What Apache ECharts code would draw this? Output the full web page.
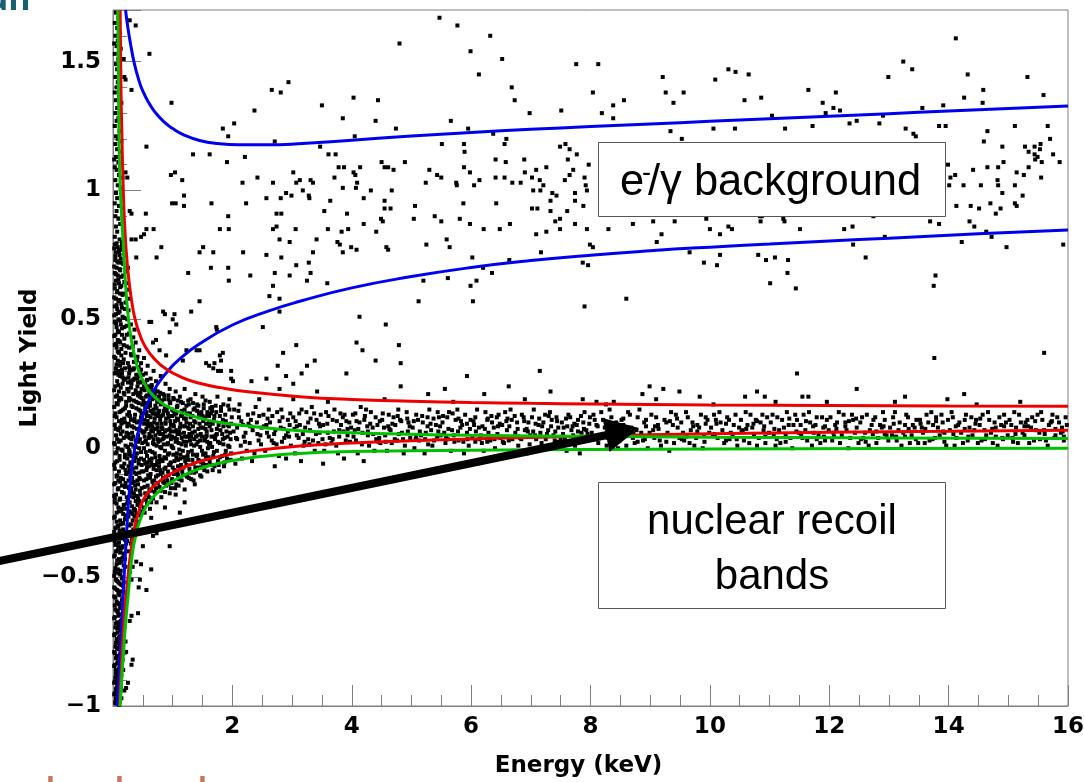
<!DOCTYPE html>
<html>
<head>
<meta charset="utf-8">
<script src="https://cdn.jsdelivr.net/npm/echarts@6.0.0/dist/echarts.min.js"></script>
<style>
  html, body { margin: 0; padding: 0; background: #ffffff; }
  #chart { width: 1084px; height: 782px; }
</style>
</head>
<body>
<div id="chart"></div>
<script>
// Light yield vs. recoil energy: events, e-/gamma band and nuclear-recoil bands.

// Axis ranges and tick spacing
const xRange = [0, 16];
const yRange = [-1, 1.7];
const xMajorStep = 2;
const yMajorStep = 0.5;
const yMinorStep = 0.1;

// Sparse events (electron / gamma population and outliers) [energy keV, light yield]
const sparseEvents = [
  [5.47,1.67],[5.77,1.64],[6.32,1.60],[4.80,1.57],[5.99,1.54],[6.52,1.51],[6.13,1.45],[7.76,1.49],[8.13,1.49],[9.21,1.44],
  [9.26,1.38],[9.39,1.34],[9.56,1.38],[8.04,1.38],[6.68,1.40],[6.73,1.35],[6.98,1.30],[7.51,1.31],[8.19,1.30],[8.38,1.33],
  [8.38,1.28],[8.56,1.35],[3.50,1.33],[4.03,1.36],[4.44,1.35],[3.85,1.28],[4.40,1.27],[4.74,1.24],[5.66,1.27],[5.95,1.24],
  [6.37,1.22],[6.59,1.20],[6.56,1.18],[4.05,1.21],[5.51,1.18],[5.88,1.18],[5.89,1.15],[3.47,1.17],[3.61,1.14],[3.73,1.14],
  [9.34,1.23],[9.53,1.20],[7.49,1.17],[7.58,1.18],[7.65,1.16],[7.77,1.14],[7.62,1.12],[7.97,1.10],[6.89,1.12],[6.41,1.12],
  [6.58,1.11],[6.41,1.05],[6.56,1.05],[6.69,1.03],[6.83,1.03],[6.90,1.07],[7.02,1.05],[7.09,1.08],[7.26,1.09],[7.15,1.04],
  [7.21,1.02],[7.71,1.08],[7.65,1.06],[7.57,1.04],[7.90,1.05],[7.92,1.02],[7.94,1.00],[7.88,0.94],[7.74,0.99],[7.74,0.96],
  [7.36,0.99],[7.43,0.98],[7.33,0.96],[7.33,0.92],[7.49,0.89],[7.41,0.88],[7.61,0.92],[7.04,1.00],[7.16,1.00],[7.02,0.93],
  [7.11,0.93],[7.09,0.83],[7.26,0.84],[7.49,0.85],[7.74,0.87],[7.94,0.85],[8.30,0.85],[8.71,0.87],[9.05,0.88],[9.41,0.88],
  [9.19,0.83],[9.11,0.80],[7.99,0.79],[8.04,0.78],[3.31,1.04],[3.35,1.03],[3.13,1.04],[3.18,1.00],[3.28,0.98],[3.29,0.97],
  [3.54,0.92],[3.64,0.96],[3.78,1.09],[3.87,1.09],[3.71,1.05],[4.03,1.07],[4.06,1.06],[4.14,1.09],[4.09,1.03],[3.85,1.01],
  [4.07,1.01],[4.32,1.00],[4.20,0.97],[4.50,1.11],[4.55,1.09],[4.61,1.09],[4.70,1.08],[4.89,1.11],[4.67,1.00],[4.55,0.96],
  [4.55,0.93],[4.65,0.93],[5.06,0.94],[5.04,0.89],[5.30,1.08],[5.43,1.06],[5.50,1.05],[5.24,1.03],[5.75,1.03],[5.76,1.02],
  [6.05,1.02],[6.14,1.04],[5.88,1.09],[5.98,1.07],[5.87,0.95],[6.42,0.95],[5.39,0.90],[5.50,0.88],[5.81,0.89],[5.98,0.87],
  [6.21,0.85],[6.48,0.85],[6.65,0.87],[3.92,0.91],[4.20,0.87],[4.49,0.89],[4.52,0.88],[4.41,0.84],[3.60,0.85],[3.83,0.84],
  [3.94,0.85],[3.41,0.81],[3.76,0.80],[3.80,0.79],[3.99,0.78],[4.58,0.78],[5.25,0.79],[5.59,0.81],[5.64,0.78],
  [14.12,1.59],[13.24,1.50],[13.39,1.47],[12.99,1.44],[14.32,1.45],[15.32,1.44],[15.59,1.37],[10.09,1.43],[10.31,1.47],[10.43,1.46],
  [10.65,1.45],[11.65,1.39],[12.11,1.38],[10.58,1.35],[10.86,1.36],[11.89,1.34],[12.07,1.32],[12.18,1.31],[11.94,1.30],[11.04,1.29],
  [13.56,1.32],[13.91,1.33],[14.26,1.36],[14.57,1.34],[14.58,1.39],[12.90,1.29],[12.46,1.27],[12.34,1.26],[12.84,1.26],[10.06,1.24],
  [10.42,1.24],[11.26,1.24],[11.72,1.25],[13.28,1.24],[13.41,1.22],[13.45,1.21],[13.84,1.25],[13.95,1.25],[14.65,1.23],[15.11,1.25],
  [15.66,1.25],[14.59,1.19],[14.90,1.17],[15.28,1.17],[15.44,1.17],[15.54,1.18],[15.53,1.16],[15.34,1.15],[15.44,1.14],[15.49,1.13],
  [15.75,1.14],[15.70,1.20],[15.86,1.11],[15.45,1.12],[15.56,1.11],[15.34,1.09],[15.55,1.05],[15.26,1.06],[15.14,1.07],[15.11,1.02],
  [15.24,0.98],[15.11,0.95],[15.14,0.94],[14.92,1.11],[14.83,1.09],[14.65,1.09],[14.41,1.08],[14.82,1.04],[14.83,1.02],[14.90,0.99],
  [14.54,1.02],[14.25,1.02],[14.11,1.06],[14.03,1.05],[14.01,1.02],[13.99,1.10],[14.13,0.94],[14.37,0.94],[14.51,0.93],[14.70,0.95],
  [14.79,0.91],[14.87,0.93],[14.35,0.88],[14.43,0.86],[14.63,0.84],[14.72,0.82],[13.69,0.88],[13.84,0.87],[14.22,0.80],[14.97,0.78],
  [15.92,0.79],[11.51,0.85],[12.25,0.85],[12.39,0.86],[12.93,0.82],[12.40,0.79],[10.00,0.85],[10.31,0.86],[10.37,0.85],[10.17,0.83],
  [9.94,0.89],[10.85,0.88],[10.84,0.90],[11.23,0.89],[11.25,0.88],[10.87,0.90],[12.74,0.90],
  [3.35,0.76],[3.85,0.76],[4.08,0.77],[4.61,0.77],[3.28,0.72],[3.31,0.68],[3.25,0.65],[3.59,0.64],[6.02,0.74],[6.64,0.73],
  [7.17,0.76],[7.87,0.72],[7.96,0.71],[6.20,0.70],[6.35,0.68],[5.61,0.66],[5.20,0.65],[5.99,0.63],[6.09,0.65],[5.12,0.57],
  [6.03,0.57],[7.90,0.55],[8.60,0.58],[9.66,0.76],[4.13,0.51],[4.57,0.48],[4.08,0.41],[4.18,0.38],[4.79,0.40],[4.40,0.34],
  [4.82,0.33],[3.38,0.34],[3.25,0.32],[3.16,0.29],[3.91,0.29],[5.93,0.28],[7.15,0.30],[4.82,0.24],[5.56,0.23],[6.63,0.24],
  [3.42,0.22],[5.28,0.21],[6.22,0.21],[7.33,0.22],[7.87,0.19],[8.39,0.18],[8.26,0.17],[8.87,0.21],[8.99,0.24],[9.22,0.23],
  [9.49,0.22],[9.83,0.20],
  [9.90,0.72],[10.12,0.71],[10.17,0.75],[10.81,0.75],[10.94,0.73],[11.09,0.74],[11.31,0.73],[11.30,0.68],[11.01,0.64],[11.44,0.62],
  [12.61,0.74],[13.78,0.67],[13.75,0.63],[13.76,0.35],[15.60,0.37],[11.46,0.29],[12.46,0.23],[10.59,0.20],[10.79,0.22],[10.92,0.20],
  [11.55,0.20],[11.65,0.20],[13.27,0.20],[13.98,0.19],[14.26,0.21],[14.47,0.17],[11.96,0.18],[10.06,0.17],
  [0.38,1.64],[0.61,1.53],[0.98,1.34],[0.56,1.17],[1.34,1.14],[1.62,1.14],[1.91,1.11],[2.21,1.13],[1.84,1.24],[1.93,1.21],
  [2.03,1.26],[2.37,1.31],[2.66,1.39],[2.81,1.38],[2.94,1.42],[2.71,1.19],[0.97,1.06],[1.04,1.07],[1.16,1.04],[0.99,0.95],
  [1.05,0.95],[1.19,0.98],[1.19,0.94],[1.65,0.95],[1.93,0.90],[1.79,0.85],[1.94,0.85],[2.17,1.03],[2.42,1.05],[2.23,0.95],
  [2.57,0.97],[2.68,1.03],[2.81,0.97],[2.90,0.99],[2.99,0.98],[3.02,1.07],[3.07,1.03],[2.74,0.91],[2.82,0.91],[2.68,0.85],
  [2.74,0.86],[3.06,0.85],[2.79,0.81],[2.96,0.80],[0.55,0.91],[0.56,0.85],[0.68,0.85],[0.52,0.83],[0.38,0.81],[0.47,0.82],
  [0.81,0.78],[1.51,0.78],
  [0.39,0.74],[0.73,0.74],[1.45,0.76],[1.68,0.76],[2.18,0.76],[2.57,0.75],[2.82,0.74],[3.07,0.71],[1.26,0.68],[1.64,0.70],
  [1.93,0.70],[2.30,0.67],[2.71,0.68],[2.96,0.67],[1.94,0.65],[2.68,0.63],[2.62,0.59],[2.79,0.58],[1.45,0.57],[0.84,0.53],
  [1.31,0.53],[1.00,0.50],[0.64,0.49],[0.95,0.45],[1.74,0.46],[2.51,0.47],[2.85,0.37],[2.76,0.32],[3.07,0.40],[1.40,0.38],
  [1.56,0.33],[1.61,0.32],[1.79,0.36],[1.81,0.34],[1.68,0.31],[1.81,0.30],[1.98,0.27],[2.32,0.26],[2.57,0.27],[2.90,0.28],
  [3.02,0.25],[0.87,0.52],[1.03,0.52],[0.61,0.49],[0.78,0.38],[0.89,0.36],[0.67,0.41],[1.17,0.34],[1.23,0.38],[1.45,0.38],
  [1.73,0.47],[1.84,0.37],[1.70,0.33],[1.76,0.30],[1.98,0.30],[2.01,0.26],[2.79,0.53],[2.79,0.23],[3.02,0.19],[2.82,0.15],
  [1.06,0.48],[0.72,0.42],
  [0.73,-0.21],[0.87,-0.23],[1.12,-0.25],[1.20,-0.21],[0.53,-0.25],[0.64,-0.27],[0.95,-0.38],[0.50,-0.38],[0.39,-0.44],[0.47,-0.45],
  [0.64,-0.47],[0.33,-0.46],[0.31,-0.51],[0.45,-0.51],[0.56,-0.55],[0.43,-0.54],[0.31,-0.65],[0.42,-0.64],[0.28,-0.67],[0.22,-0.79],
  [0.33,-0.82],[0.31,-0.84],[0.25,-0.91],[0.22,-0.93],[0.67,-0.34],[0.73,-0.33],[0.59,-0.32]
];

// Events piled up at the lowest energies (threshold column)
const thresholdEvents = [
  [0.05,1.69],[0.09,1.67],[0.03,1.65],[0.07,1.63],[0.11,1.61],[0.04,1.60],[0.08,1.58],[0.06,1.56],[0.13,1.55],[0.03,1.53],
  [0.09,1.51],[0.05,1.49],[0.07,1.47],[0.12,1.46],[0.04,1.44],[0.08,1.42],[0.06,1.40],[0.03,1.38],[0.10,1.37],[0.05,1.35],
  [0.14,1.34],[0.07,1.32],[0.04,1.30],[0.09,1.28],[0.06,1.27],[0.03,1.25],[0.11,1.23],[0.05,1.21],[0.08,1.20],[0.04,1.18],
  [0.07,1.16],[0.12,1.15],[0.05,1.13],[0.09,1.11],[0.03,1.09],[0.06,1.08],[0.10,1.06],[0.04,1.04],[0.08,1.02],[0.13,1.01],
  [0.05,0.99],[0.07,0.97],[0.03,0.95],[0.10,0.94],[0.06,0.92],[0.04,0.90],[0.09,0.89],[0.12,0.87],[0.05,0.86],[0.07,0.84],
  [0.03,0.82],[0.11,0.81],[0.15,0.80],[0.06,1.71],[0.10,1.45],[0.14,1.19],[0.15,0.93],[0.02,1.12],[0.02,1.57],[0.16,1.05],
  [0.19,1.44],[0.21,1.43],[0.31,1.39],[0.18,1.51],[0.24,1.05],[0.21,1.07],[0.28,0.92],[0.31,0.91],[0.31,0.81],[0.28,1.66],
  [0.03,0.79],[0.08,0.78],[0.13,0.77],[0.18,0.78],[0.05,0.76],[0.11,0.75],[0.21,0.75],[0.04,0.73],[0.09,0.72],[0.15,0.72],
  [0.06,0.70],[0.12,0.69],[0.25,0.70],[0.03,0.68],[0.08,0.67],[0.17,0.67],[0.05,0.65],[0.10,0.64],[0.14,0.63],[0.22,0.64],
  [0.03,0.62],[0.07,0.61],[0.12,0.60],[0.18,0.60],[0.05,0.58],[0.09,0.57],[0.27,0.58],[0.14,0.56],[0.03,0.55],[0.07,0.54],
  [0.11,0.53],[0.20,0.54],[0.05,0.52],[0.16,0.51],[0.09,0.50],[0.24,0.50],[0.03,0.49],[0.13,0.48],[0.06,0.47],[0.19,0.47],
  [0.30,0.48],[0.10,0.45],[0.04,0.44],[0.15,0.44],[0.23,0.44],[0.08,0.42],[0.12,0.41],[0.34,0.43],[0.03,0.40],[0.18,0.40],
  [0.06,0.39],[0.27,0.39],[0.10,0.37],[0.14,0.36],[0.21,0.37],[0.04,0.35],[0.31,0.36],[0.08,0.34],[0.17,0.33],[0.12,0.32],
  [0.25,0.33],[0.40,0.34],[0.05,0.31],[0.20,0.31],[0.35,0.31],[0.09,0.30],[0.15,0.29],[0.28,0.30],[0.45,0.30],
  [0.06,0.795],[0.15,0.785],[0.02,0.775],[0.10,0.765],[0.19,0.755],[0.04,0.745],[0.13,0.735],[0.07,0.725],[0.17,0.715],[0.02,0.705],
  [0.11,0.695],[0.21,0.685],[0.05,0.675],[0.14,0.665],[0.09,0.655],[0.19,0.645],[0.03,0.635],[0.12,0.625],[0.24,0.615],[0.07,0.605],
  [0.16,0.595],[0.02,0.585],[0.11,0.575],[0.21,0.565],[0.06,0.555],[0.15,0.545],[0.26,0.535],[0.09,0.525],[0.02,0.515],[0.19,0.505],
  [0.12,0.495],[0.05,0.485],[0.23,0.475],[0.15,0.465],[0.08,0.455],[0.27,0.445],[0.02,0.435],[0.19,0.425],[0.11,0.415],[0.05,0.405],
  [0.23,0.395],[0.14,0.385],[0.08,0.375],[0.30,0.365],[0.02,0.355],[0.18,0.345],[0.12,0.335],[0.06,0.325],[0.27,0.315],[0.15,0.305],
  [0.04,-0.31],[0.11,-0.32],[0.19,-0.33],[0.07,-0.34],[0.15,-0.35],[0.03,-0.36],[0.22,-0.37],[0.09,-0.38],[0.13,-0.39],[0.05,-0.40],
  [0.18,-0.41],[0.02,-0.42],[0.10,-0.43],[0.14,-0.44],[0.06,-0.45],[0.21,-0.46],[0.08,-0.47],[0.03,-0.48],[0.12,-0.49],[0.17,-0.50],
  [0.05,-0.51],[0.09,-0.52],[0.14,-0.53],[0.02,-0.54],[0.07,-0.55],[0.19,-0.56],[0.11,-0.57],[0.04,-0.58],[0.15,-0.59],[0.08,-0.60],
  [0.03,-0.61],[0.12,-0.62],[0.06,-0.63],[0.17,-0.64],[0.09,-0.65],[0.02,-0.66],[0.13,-0.67],[0.05,-0.68],[0.10,-0.69],[0.07,-0.70],
  [0.15,-0.71],[0.03,-0.72],[0.11,-0.73],[0.06,-0.74],[0.08,-0.75],[0.13,-0.76],[0.04,-0.77],[0.09,-0.78],[0.02,-0.79],[0.12,-0.80],
  [0.06,-0.81],[0.16,-0.82],[0.08,-0.83],[0.03,-0.84],[0.11,-0.85],[0.05,-0.86],[0.09,-0.87],[0.14,-0.88],[0.04,-0.89],[0.07,-0.90],
  [0.02,-0.91],[0.10,-0.92],[0.06,-0.93],[0.12,-0.94],[0.03,-0.95],[0.08,-0.96],[0.05,-0.97],[0.11,-0.98],[0.04,-0.99],[0.07,-0.99],
  [0.16,-0.38],[0.20,-0.43],[0.24,-0.36],[0.18,-0.52],[0.23,-0.58],[0.14,-0.61],[0.19,-0.69],[0.21,-0.75],[0.17,-0.86],[0.19,-0.94],
  [0.14,-0.97],[0.26,-0.40],[0.28,-0.48],[0.25,-0.33],
  [0.09,-0.305],[0.17,-0.315],[0.02,-0.325],[0.13,-0.335],[0.06,-0.345],[0.20,-0.355],[0.10,-0.365],[0.04,-0.375],[0.15,-0.385],[0.08,-0.395],
  [0.12,-0.405],[0.03,-0.415],[0.16,-0.425],[0.07,-0.435],[0.11,-0.445],[0.18,-0.455],[0.04,-0.465],[0.13,-0.475],[0.09,-0.485],[0.02,-0.495],
  [0.15,-0.505],[0.07,-0.515],[0.11,-0.525],[0.17,-0.535],[0.04,-0.545],[0.13,-0.555],[0.09,-0.565],[0.02,-0.575],[0.16,-0.585],[0.06,-0.595],
  [0.10,-0.605],[0.14,-0.615],[0.04,-0.625],[0.08,-0.635],[0.12,-0.645],[0.03,-0.655],[0.15,-0.665],[0.07,-0.675],[0.11,-0.685],[0.04,-0.695],
  [0.13,-0.705],[0.08,-0.715],[0.02,-0.725],[0.10,-0.735],[0.14,-0.745],[0.05,-0.755],[0.11,-0.765],[0.07,-0.775],[0.13,-0.785],[0.03,-0.795],
  [0.09,-0.805],[0.05,-0.815],[0.12,-0.825],[0.07,-0.835],[0.02,-0.845],[0.10,-0.855],[0.13,-0.865],[0.05,-0.875],[0.08,-0.885],[0.11,-0.895],
  [0.03,-0.905],[0.07,-0.915],[0.13,-0.925],[0.05,-0.935],[0.09,-0.945],[0.02,-0.955],[0.11,-0.965],[0.07,-0.975],[0.04,-0.985],[0.10,-0.995]
];

// Dense low-energy cloud below 2 keV
const lowEnergyCloud = [
  [0.03,0.29],[0.12,0.28],[0.21,0.27],[0.07,0.26],[0.16,0.25],[0.04,0.24],[0.24,0.23],[0.10,0.22],[0.19,0.21],[0.05,0.20],
  [0.14,0.19],[0.22,0.18],[0.08,0.17],[0.02,0.16],[0.17,0.15],[0.11,0.14],[0.24,0.13],[0.06,0.12],[0.15,0.11],[0.20,0.10],
  [0.03,0.09],[0.12,0.08],[0.09,0.07],[0.23,0.06],[0.05,0.05],[0.18,0.04],[0.13,0.03],[0.02,0.02],[0.21,0.01],[0.08,0.00],
  [0.16,-0.01],[0.04,-0.02],[0.11,-0.03],[0.24,-0.04],[0.07,-0.05],[0.19,-0.06],[0.14,-0.07],[0.03,-0.08],[0.10,-0.09],[0.22,-0.10],
  [0.06,-0.11],[0.17,-0.12],[0.12,-0.13],[0.02,-0.14],[0.20,-0.15],[0.08,-0.16],[0.15,-0.17],[0.05,-0.18],[0.23,-0.19],[0.11,-0.20],
  [0.03,-0.21],[0.18,-0.22],[0.09,-0.23],[0.14,-0.24],[0.06,-0.25],[0.21,-0.26],[0.02,-0.27],[0.12,-0.28],[0.17,-0.29],[0.08,-0.30],
  [0.09,0.285],[0.18,0.265],[0.13,0.235],[0.07,0.205],[0.20,0.155],[0.04,0.135],[0.14,0.095],[0.07,0.035],[0.20,-0.025],[0.13,0.055],
  [0.04,-0.055],[0.09,-0.125],[0.21,-0.085],[0.15,-0.145],[0.03,-0.195],[0.17,-0.255],[0.06,-0.285],[0.23,-0.215],[0.10,0.185],[0.24,0.085],
  [0.05,0.295],[0.16,0.275],[0.25,0.255],[0.09,0.245],[0.02,0.225],[0.18,0.215],[0.12,0.195],[0.27,0.185],[0.06,0.175],[0.22,0.165],
  [0.14,0.145],[0.03,0.125],[0.19,0.115],[0.10,0.105],[0.26,0.095],[0.05,0.075],[0.16,0.065],[0.22,0.045],[0.10,0.025],[0.03,0.015],
  [0.25,0.005],[0.14,-0.005],[0.06,-0.015],[0.20,-0.035],[0.11,-0.045],[0.02,-0.065],[0.17,-0.075],[0.25,-0.095],[0.07,-0.105],[0.13,-0.115],
  [0.04,-0.135],[0.21,-0.135],[0.09,-0.155],[0.18,-0.175],[0.02,-0.185],[0.12,-0.195],[0.25,-0.205],[0.06,-0.215],[0.15,-0.235],[0.10,-0.245],
  [0.03,-0.265],[0.20,-0.275],[0.13,-0.295],[0.26,-0.265],[0.22,-0.235],[0.27,-0.155],[0.28,-0.015],[0.28,0.125],
  [0.27,0.29],[0.36,0.27],[0.44,0.28],[0.31,0.25],[0.41,0.24],[0.48,0.23],[0.26,0.22],[0.34,0.21],[0.45,0.20],[0.29,0.19],
  [0.39,0.18],[0.49,0.17],[0.33,0.16],[0.27,0.14],[0.43,0.15],[0.37,0.13],[0.47,0.12],[0.30,0.11],[0.40,0.10],[0.26,0.09],
  [0.35,0.08],[0.46,0.07],[0.32,0.06],[0.42,0.05],[0.28,0.04],[0.38,0.03],[0.49,0.02],[0.34,0.01],[0.44,0.00],[0.27,-0.01],
  [0.40,-0.02],[0.31,-0.03],[0.47,-0.04],[0.36,-0.05],[0.43,-0.06],[0.26,-0.07],[0.33,-0.08],[0.48,-0.09],[0.39,-0.10],[0.29,-0.11],
  [0.45,-0.12],[0.35,-0.13],[0.42,-0.14],[0.27,-0.15],[0.38,-0.16],[0.31,-0.17],[0.46,-0.18],[0.34,-0.19],[0.28,-0.21],[0.41,-0.22],
  [0.37,-0.24],[0.30,-0.25],[0.44,-0.26],[0.33,-0.28],[0.27,-0.30],[0.39,-0.31],[0.35,-0.34],[0.30,-0.37],
  [0.29,0.26],[0.40,0.215],[0.46,0.145],[0.36,0.105],[0.31,0.035],[0.45,0.035],[0.38,-0.035],[0.29,-0.055],[0.44,-0.095],[0.32,-0.135],
  [0.40,-0.185],[0.48,-0.155],
  [0.26,0.275],[0.34,0.265],[0.42,0.255],[0.30,0.235],[0.38,0.225],[0.46,0.215],[0.27,0.195],[0.35,0.185],[0.43,0.175],[0.31,0.165],
  [0.39,0.155],[0.48,0.135],[0.28,0.125],[0.36,0.115],[0.44,0.105],[0.32,0.085],[0.40,0.075],[0.49,0.065],[0.26,0.055],[0.34,0.045],
  [0.42,0.025],[0.30,0.015],[0.38,0.005],[0.47,-0.015],[0.27,-0.025],[0.35,-0.035],[0.43,-0.045],[0.31,-0.065],[0.39,-0.075],[0.48,-0.065],
  [0.28,-0.085],[0.36,-0.095],[0.44,-0.115],[0.32,-0.115],[0.41,-0.125],[0.26,-0.125],[0.37,-0.145],[0.45,-0.165],[0.30,-0.155],[0.35,-0.175],
  [0.42,-0.195],[0.28,-0.185],[0.38,-0.205],[0.32,-0.225],[0.45,-0.225],[0.28,-0.245],[0.36,-0.265],[0.41,-0.285],[0.30,-0.295],[0.34,-0.315],
  [0.29,-0.335],
  [0.38,0.41],[0.44,0.38],[0.36,0.46],[0.47,0.33],[0.52,0.35],[0.41,0.27],[0.55,0.29],[0.49,0.26],[0.58,0.32],[0.63,0.27],
  [0.68,0.30],[0.72,0.26],[0.60,0.24],[0.80,0.28],[0.88,0.25],[0.95,0.23],[0.66,0.22],[0.75,0.22],[0.84,0.21],[1.05,0.22],
  [1.12,0.20],[1.20,0.23],[0.93,0.19],[1.30,0.19],[1.38,0.21],[1.50,0.20],[1.62,0.18],[1.75,0.20],[1.85,0.17],[1.95,0.19],
  [0.52,0.24],[0.61,0.22],[0.70,0.21],[0.55,0.20],[0.66,0.19],[0.74,0.18],[0.51,0.17],[0.59,0.16],[0.68,0.15],[0.56,0.14],
  [0.72,0.13],[0.63,0.12],[0.53,0.11],[0.69,0.10],[0.58,0.09],[0.75,0.08],[0.64,0.07],[0.51,0.06],[0.71,0.05],[0.60,0.04],
  [0.55,0.03],[0.67,0.02],[0.73,0.01],[0.52,0.00],[0.62,-0.01],[0.70,-0.02],[0.57,-0.03],[0.65,-0.04],[0.74,-0.05],[0.54,-0.06],
  [0.60,-0.07],[0.68,-0.08],[0.51,-0.09],[0.63,-0.10],[0.72,-0.11],[0.56,-0.12],[0.66,-0.13],[0.53,-0.15],[0.61,-0.16],[0.70,-0.17],
  [0.58,-0.18],[0.55,-0.20],[0.64,-0.21],[0.52,-0.23],[0.60,-0.19],[0.57,0.125],[0.73,0.155],[0.62,0.175],[0.66,-0.015],[0.58,-0.055],
  [0.53,0.225],[0.64,0.235],[0.57,0.205],[0.69,0.195],[0.78,0.185],[0.51,0.185],[0.62,0.165],[0.71,0.165],[0.54,0.155],[0.66,0.135],
  [0.77,0.145],[0.59,0.125],[0.70,0.115],[0.52,0.095],[0.63,0.095],[0.74,0.095],[0.56,0.075],[0.67,0.065],[0.78,0.065],[0.53,0.045],
  [0.64,0.045],[0.75,0.035],[0.58,0.015],[0.69,0.015],[0.79,0.005],[0.55,-0.015],[0.71,-0.035],[0.61,-0.045],[0.77,-0.055],[0.52,-0.045],
  [0.66,-0.065],[0.56,-0.085],[0.73,-0.085],[0.62,-0.115],[0.52,-0.125],[0.69,-0.125],[0.58,-0.145],[0.75,-0.135],[0.64,-0.165],[0.54,-0.175],
  [0.67,-0.195],[0.57,-0.215],[0.62,-0.235],
  [0.77,0.20],[0.86,0.19],[0.95,0.18],[0.80,0.17],[0.91,0.16],[0.99,0.15],[0.76,0.14],[0.84,0.13],[0.93,0.12],[0.79,0.11],
  [0.88,0.10],[0.97,0.09],[0.82,0.08],[0.90,0.07],[0.76,0.06],[0.95,0.05],[0.85,0.04],[0.79,0.03],[0.92,0.02],[0.98,0.01],
  [0.81,0.00],[0.87,-0.01],[0.94,-0.02],[0.78,-0.03],[0.89,-0.04],[0.83,-0.05],[0.96,-0.06],[0.77,-0.07],[0.86,-0.08],[0.92,-0.09],
  [0.80,-0.10],[0.89,-0.11],[0.99,-0.12],[0.84,-0.13],[0.78,-0.15],[0.93,-0.14],[0.87,-0.17],[0.81,-0.19],[0.90,0.145],[0.84,0.055],
  [0.97,0.035],[0.79,-0.085],
  [0.82,0.185],[0.96,0.175],[1.08,0.165],[0.87,0.155],[1.01,0.145],[1.15,0.145],[0.81,0.125],[0.94,0.125],[1.07,0.115],[0.88,0.095],
  [1.02,0.085],[1.17,0.085],[0.83,0.075],[0.97,0.065],[1.12,0.055],[0.90,0.045],[1.05,0.025],[1.18,0.025],[0.85,0.015],[0.99,0.005],
  [1.11,-0.005],[0.92,-0.025],[1.06,-0.035],[1.19,-0.035],[0.82,-0.045],[0.97,-0.055],[1.14,-0.065],[0.88,-0.075],[1.03,-0.085],[0.93,-0.105],
  [1.09,-0.105],[0.84,-0.115],[0.98,-0.135],[1.15,-0.125],[0.89,-0.145],[1.04,-0.155],[0.95,-0.175],
  [1.02,0.19],[1.14,0.18],[1.27,0.17],[1.41,0.17],[1.07,0.16],[1.20,0.15],[1.35,0.15],[1.48,0.14],[1.03,0.13],[1.16,0.13],
  [1.30,0.12],[1.44,0.12],[1.09,0.11],[1.23,0.10],[1.38,0.10],[1.01,0.09],[1.12,0.08],[1.26,0.08],[1.47,0.08],[1.06,0.07],
  [1.19,0.06],[1.33,0.06],[1.42,0.05],[1.04,0.04],[1.15,0.04],[1.29,0.03],[1.46,0.03],[1.10,0.02],[1.22,0.01],[1.36,0.01],
  [1.01,0.00],[1.17,-0.01],[1.32,-0.01],[1.49,-0.01],[1.07,-0.02],[1.25,-0.03],[1.40,-0.03],[1.13,-0.04],[1.03,-0.05],[1.21,-0.05],
  [1.35,-0.06],[1.45,-0.05],[1.09,-0.07],[1.28,-0.08],[1.16,-0.09],[1.02,-0.10],[1.39,-0.09],[1.24,-0.11],[1.11,-0.12],[1.06,-0.14],
  [1.31,-0.12],[1.19,0.115],[1.34,0.085],[1.08,0.055],[1.42,0.025],[1.27,0.045],[1.13,-0.025],[1.44,-0.075],[1.20,-0.16],[1.37,-0.14],
  [1.05,-0.18],[1.48,-0.11],
  [1.23,0.165],[1.37,0.155],[1.52,0.155],[1.66,0.145],[1.29,0.135],[1.44,0.135],[1.58,0.125],[1.22,0.115],[1.36,0.105],[1.51,0.105],
  [1.67,0.095],[1.28,0.075],[1.43,0.075],[1.57,0.065],[1.24,0.045],[1.39,0.045],[1.54,0.035],[1.69,0.045],[1.31,0.015],[1.46,0.005],
  [1.61,0.015],[1.26,-0.015],[1.41,-0.025],[1.56,-0.035],[1.33,-0.045],[1.48,-0.055],[1.64,-0.065],[1.23,-0.065],[1.38,-0.075],[1.53,-0.085],
  [1.29,-0.095],[1.46,-0.105],[1.35,-0.125],
  [1.52,0.17],[1.66,0.16],[1.81,0.16],[1.95,0.15],[1.58,0.14],[1.73,0.14],[1.88,0.13],[1.54,0.12],[1.69,0.11],[1.84,0.11],
  [1.99,0.12],[1.61,0.10],[1.77,0.09],[1.92,0.09],[1.51,0.08],[1.65,0.07],[1.80,0.07],[1.96,0.06],[1.57,0.05],[1.72,0.05],
  [1.87,0.04],[1.53,0.03],[1.63,0.02],[1.79,0.02],[1.93,0.01],[1.59,0.00],[1.74,-0.01],[1.89,-0.01],[1.55,-0.02],[1.68,-0.03],
  [1.83,-0.03],[1.98,-0.02],[1.62,-0.05],[1.76,-0.05],[1.91,-0.04],[1.51,-0.06],[1.70,-0.07],[1.86,-0.07],[1.58,-0.09],[1.78,-0.09],
  [1.64,0.135],[1.90,0.065],[1.71,0.035],[1.85,0.085],[1.56,0.095],[1.97,0.035]
];

// Second pass over the crowded part of the low-energy cloud
const lowEnergyCore = [
  [0.33,0.395],[0.41,0.355],[0.47,0.305],[0.35,0.335],[0.43,0.315],[0.31,0.305],[0.50,0.285],[0.57,0.265],[0.65,0.245],[0.54,0.255],
  [0.62,0.205],[0.71,0.225],[0.79,0.215],[0.86,0.205],[0.93,0.205],[1.01,0.195],[1.09,0.185],[1.17,0.175],[1.26,0.185],[1.34,0.175],
  [1.43,0.165],[1.55,0.185],[1.63,0.155],[1.72,0.165],[1.81,0.145],[1.93,0.165],[0.58,0.105],[0.66,0.085],[0.72,0.075],[0.81,0.095],
  [0.89,0.115],[0.96,0.105],[1.04,0.105],[1.13,0.095],[1.21,0.085],[1.29,0.095],[1.37,0.065],[1.45,0.095],[1.55,0.075],[1.62,0.085],
  [1.74,0.075],[1.83,0.055],[1.94,0.085],[0.54,0.025],[0.61,0.055],[0.68,0.035],[0.76,0.025],[0.83,0.035],[0.91,0.015],[0.99,0.045],
  [1.07,0.035],[1.15,0.015],[1.23,0.025],[1.31,0.045],[1.40,0.015],[1.49,0.045],[1.58,0.025],[1.66,0.005],[1.76,0.025],[1.85,0.015],
  [1.95,0.005],[0.57,-0.075],[0.64,-0.055],[0.72,-0.065],[0.79,-0.045],[0.86,-0.035],[0.94,-0.065],[1.01,-0.025],[1.09,-0.045],[1.18,-0.075],
  [1.26,-0.045],[1.34,-0.025],[1.43,-0.045],[1.51,-0.025],[1.60,-0.035],[1.69,-0.015],[1.79,-0.035],[1.88,-0.025],[1.97,-0.045],[0.59,-0.105],
  [0.68,-0.145],[0.75,-0.105],[0.83,-0.095],[0.91,-0.125],[1.00,-0.075],[1.08,-0.095],[1.17,-0.105],[1.27,-0.115],[1.36,-0.095],[1.47,-0.075],
  [1.57,-0.065],[1.67,-0.085],[1.77,-0.065],[1.87,-0.055],[0.72,-0.155],[0.80,-0.165],[0.86,-0.135],[0.97,-0.155],[1.10,-0.145],[0.35,-0.235],
  [0.47,-0.215],[0.40,-0.255],[0.44,-0.205],[0.49,-0.245],[0.33,-0.255],[0.38,-0.295],[0.36,-0.325],[0.32,-0.355],[0.46,0.255],[0.39,0.285],
  [0.34,0.305],[0.42,0.205],[0.48,0.195],[0.55,0.175],[0.63,0.145],[0.69,0.135],[0.76,0.125],[0.85,0.145],[0.92,0.135],[0.99,0.125],
  [1.06,0.135],[1.14,0.125],[1.24,0.135],[1.33,0.125],[1.41,0.145],[1.50,0.125],[1.61,0.125],[1.70,0.125],[1.79,0.125],[1.89,0.105],
  [1.98,0.095],[0.53,0.065],[0.60,0.085],[0.70,0.075],[0.79,0.055],[0.87,0.065],[0.95,0.075],[1.03,0.065],[1.11,0.065],[1.20,0.045],
  [1.28,0.055],[1.36,0.035],[1.47,0.055],[1.56,0.045],[1.65,0.045],[1.74,0.055],[1.84,0.035],[1.92,0.045]
];

// Nuclear-recoil-like band from 2 to 16 keV
const recoilBand = [
  [2.03,0.15],[2.11,0.12],[2.18,0.09],[2.26,0.13],[2.34,0.07],[2.41,0.10],[2.47,0.05],[2.06,0.04],[2.14,0.01],[2.22,0.06],
  [2.29,0.02],[2.37,-0.02],[2.44,0.03],[2.08,0.08],[2.16,-0.04],[2.31,0.11],[2.39,0.16],[2.49,0.08],[2.24,-0.01],[2.12,0.17],
  [2.52,0.13],[2.58,0.06],[2.63,0.10],[2.69,0.02],[2.75,0.14],[2.81,0.08],[2.87,0.04],[2.93,0.11],[2.98,0.01],[2.55,-0.01],
  [2.61,0.15],[2.72,0.07],[2.78,-0.03],[2.84,0.12],[2.90,0.05],[2.96,0.09],[2.66,0.03],[2.57,0.09],
  [3.02,0.12],[3.08,0.05],[3.13,0.09],[3.19,0.01],[3.24,0.14],[3.30,0.07],[3.35,0.03],[3.41,0.11],[3.46,0.06],[3.05,-0.02],
  [3.16,0.15],[3.27,0.10],[3.38,-0.01],[3.48,0.13],[3.11,0.04],[3.22,0.08],[3.33,0.16],[3.44,0.02],
  [3.52,0.09],[3.57,0.14],[3.63,0.04],[3.68,0.11],[3.74,0.01],[3.79,0.07],[3.85,0.12],[3.90,0.03],[3.96,0.10],[3.54,-0.01],
  [3.60,0.06],[3.71,0.15],[3.77,-0.02],[3.82,0.09],[3.88,0.13],[3.93,0.05],[3.66,0.02],[3.99,0.08],
  [4.02,0.13],[4.07,0.03],[4.13,0.10],[4.18,0.06],[4.24,0.15],[4.29,0.01],[4.35,0.08],[4.40,0.12],[4.46,0.04],[4.05,0.07],
  [4.10,-0.02],[4.21,0.11],[4.27,0.05],[4.32,0.14],[4.38,-0.01],[4.43,0.09],[4.48,0.02],[4.15,0.16],
  [4.51,0.11],[4.56,0.05],[4.62,0.13],[4.67,0.02],[4.73,0.09],[4.78,0.15],[4.84,0.06],[4.89,0.01],[4.95,0.10],[4.54,0.08],
  [4.59,-0.01],[4.65,0.07],[4.70,0.12],[4.76,0.03],[4.81,0.11],[4.87,-0.02],[4.92,0.14],[4.98,0.04],
  [5.02,0.08],[5.08,0.13],[5.13,0.03],[5.19,0.10],[5.24,0.06],[5.30,0.15],[5.35,0.01],[5.41,0.09],[5.46,0.12],[5.05,0.00],
  [5.11,0.11],[5.16,0.05],[5.22,-0.02],[5.27,0.12],[5.33,0.07],[5.38,0.03],[5.44,0.14],[5.49,0.05],
  [5.52,0.10],[5.57,0.02],[5.63,0.14],[5.68,0.07],[5.74,0.11],[5.79,0.03],[5.85,0.09],[5.90,0.13],[5.96,0.01],[5.55,0.06],
  [5.60,0.12],[5.66,-0.01],[5.71,0.05],[5.77,0.15],[5.82,0.08],[5.88,-0.02],[5.93,0.06],[5.99,0.11],
  [6.02,0.04],[6.07,0.12],[6.13,0.08],[6.18,0.02],[6.24,0.14],[6.29,0.06],[6.35,0.10],[6.40,0.00],[6.46,0.13],[6.05,0.09],
  [6.10,0.15],[6.16,0.05],[6.21,-0.01],[6.27,0.11],[6.32,0.03],[6.38,0.08],[6.43,0.12],[6.49,0.04],
  [6.52,0.09],[6.57,0.14],[6.63,0.03],[6.68,0.11],[6.74,0.06],[6.79,0.01],[6.85,0.13],[6.90,0.07],[6.96,0.10],[6.55,0.02],
  [6.60,0.07],[6.66,0.15],[6.71,-0.01],[6.77,0.10],[6.82,0.04],[6.88,0.12],[6.93,-0.02],[6.99,0.05],
  [7.02,0.12],[7.07,0.05],[7.13,0.09],[7.18,0.02],[7.24,0.13],[7.29,0.07],[7.35,0.11],[7.40,0.03],[7.46,0.08],[7.05,0.15],
  [7.10,-0.01],[7.16,0.06],[7.21,0.10],[7.27,0.00],[7.32,0.14],[7.38,0.05],[7.43,0.12],[7.49,0.01],
  [7.52,0.10],[7.57,0.04],[7.63,0.13],[7.68,0.07],[7.74,0.01],[7.79,0.11],[7.85,0.06],[7.90,0.14],[7.96,0.03],[7.55,0.08],
  [7.60,-0.01],[7.66,0.12],[7.71,0.05],[7.77,0.09],[7.82,-0.02],[7.88,0.10],[7.93,0.07],[7.99,0.12],
  [8.02,0.06],[8.07,0.11],[8.13,0.02],[8.18,0.14],[8.24,0.08],[8.29,0.04],[8.35,0.12],[8.40,0.07],[8.46,0.00],[8.05,0.13],
  [8.10,0.09],[8.16,0.05],[8.21,0.11],[8.27,0.01],[8.32,0.15],[8.38,0.06],[8.43,0.10],[8.49,0.03],
  [8.52,0.11],[8.57,0.05],[8.63,0.14],[8.68,0.08],[8.74,0.02],[8.79,0.12],[8.85,0.06],[8.90,0.10],[8.96,0.00],[8.55,0.09],
  [8.60,0.01],[8.66,0.13],[8.71,0.04],[8.77,0.07],[8.82,0.15],[8.88,0.03],[8.93,0.11],[8.99,0.06],
  [9.02,0.13],[9.07,0.04],[9.13,0.09],[9.18,0.01],[9.24,0.11],[9.29,0.06],[9.35,0.14],[9.40,0.02],[9.46,0.08],[9.05,0.07],
  [9.10,0.12],[9.16,0.03],[9.21,0.05],[9.27,0.10],[9.32,-0.01],[9.38,0.09],[9.43,0.13],[9.49,0.04],
  [9.52,0.10],[9.57,0.03],[9.63,0.12],[9.68,0.07],[9.74,0.01],[9.79,0.09],[9.85,0.13],[9.90,0.05],[9.96,0.11],[9.55,0.06],
  [9.60,0.14],[9.66,0.02],[9.71,0.10],[9.77,0.04],[9.82,0.08],[9.88,0.00],[9.93,0.12],[9.99,0.06],
  [10.02,0.08],[10.07,0.13],[10.13,0.04],[10.18,0.10],[10.24,0.02],[10.29,0.12],[10.35,0.06],[10.40,0.09],[10.46,0.01],[10.05,0.05],
  [10.10,0.11],[10.16,0.14],[10.21,0.07],[10.27,0.03],[10.32,0.11],[10.38,0.05],[10.43,0.13],[10.49,0.08],
  [10.52,0.11],[10.57,0.03],[10.63,0.09],[10.68,0.13],[10.74,0.05],[10.79,0.01],[10.85,0.10],[10.90,0.07],[10.96,0.12],[10.55,0.07],
  [10.60,0.14],[10.66,0.02],[10.71,0.08],[10.77,0.11],[10.82,0.04],[10.88,0.13],[10.93,0.02],[10.99,0.06],
  [11.02,0.10],[11.07,0.05],[11.13,0.12],[11.18,0.02],[11.24,0.08],[11.29,0.14],[11.35,0.04],[11.40,0.09],[11.46,0.11],[11.05,0.13],
  [11.10,0.01],[11.16,0.07],[11.21,0.11],[11.27,0.05],[11.32,0.09],[11.38,0.00],[11.43,0.13],[11.49,0.06],
  [11.52,0.09],[11.57,0.13],[11.63,0.03],[11.68,0.10],[11.74,0.06],[11.79,0.12],[11.85,0.02],[11.90,0.08],[11.96,0.11],[11.55,0.04],
  [11.60,0.07],[11.66,0.14],[11.71,0.01],[11.77,0.09],[11.82,0.05],[11.88,0.12],[11.93,0.03],[11.99,0.07],
  [12.02,0.12],[12.07,0.06],[12.13,0.10],[12.18,0.02],[12.24,0.13],[12.29,0.07],[12.35,0.04],[12.40,0.11],[12.46,0.08],[12.05,0.03],
  [12.10,0.09],[12.16,0.14],[12.21,0.05],[12.27,0.10],[12.32,0.00],[12.38,0.13],[12.43,0.06],[12.49,0.02],
  [12.52,0.10],[12.57,0.04],[12.63,0.13],[12.68,0.07],[12.74,0.11],[12.79,0.02],[12.85,0.09],[12.90,0.14],[12.96,0.05],[12.55,0.12],
  [12.60,0.06],[12.66,0.01],[12.71,0.09],[12.77,0.12],[12.82,0.04],[12.88,0.08],[12.93,0.11],[12.99,0.03],
  [13.02,0.08],[13.07,0.12],[13.13,0.03],[13.18,0.10],[13.24,0.06],[13.29,0.13],[13.35,0.02],[13.40,0.09],[13.46,0.11],[13.05,0.05],
  [13.10,0.14],[13.16,0.07],[13.21,0.01],[13.27,0.09],[13.32,0.12],[13.38,0.05],[13.43,0.08],[13.49,0.02],
  [13.52,0.11],[13.57,0.06],[13.63,0.13],[13.68,0.03],[13.74,0.09],[13.79,0.12],[13.85,0.05],[13.90,0.10],[13.96,0.01],[13.55,0.08],
  [13.60,0.02],[13.66,0.10],[13.71,0.14],[13.77,0.04],[13.82,0.08],[13.88,0.13],[13.93,0.06],[13.99,0.11],
  [14.02,0.07],[14.07,0.12],[14.13,0.04],[14.18,0.10],[14.24,0.02],[14.29,0.13],[14.35,0.08],[14.40,0.05],[14.46,0.11],[14.05,0.14],
  [14.10,0.01],[14.16,0.09],[14.21,0.06],[14.27,0.11],[14.32,0.03],[14.38,0.12],[14.43,0.07],[14.49,0.02],
  [14.52,0.09],[14.57,0.13],[14.63,0.05],[14.68,0.11],[14.74,0.02],[14.79,0.08],[14.85,0.12],[14.90,0.04],[14.96,0.10],[14.55,0.03],
  [14.60,0.07],[14.66,0.14],[14.71,0.06],[14.77,0.10],[14.82,0.01],[14.88,0.09],[14.93,0.13],[14.99,0.05],
  [15.02,0.11],[15.07,0.04],[15.13,0.08],[15.18,0.13],[15.24,0.06],[15.29,0.10],[15.35,0.02],[15.40,0.12],[15.46,0.07],[15.05,0.09],
  [15.10,0.14],[15.16,0.02],[15.21,0.10],[15.27,0.05],[15.32,0.11],[15.38,0.08],[15.43,0.03],[15.49,0.13],
  [15.52,0.06],[15.57,0.11],[15.63,0.03],[15.68,0.09],[15.74,0.13],[15.79,0.05],[15.85,0.10],[15.90,0.08],[15.96,0.12],[15.55,0.14],
  [15.60,0.07],[15.66,0.01],[15.71,0.10],[15.77,0.04],[15.82,0.12],[15.88,0.06],[15.93,0.03],[15.98,0.09],
  [2.05,-0.06],[2.33,-0.05],[2.71,-0.07],[3.15,-0.05],[3.52,-0.06],[2.90,-0.04],[3.87,-0.04],[4.20,-0.05],
  [2.45,0.19],[3.60,0.18],[4.55,0.19],[5.70,0.18],[6.90,0.19],[8.10,0.18],[9.10,0.19],[11.10,0.18],[13.10,0.18],[15.20,0.18],
  [2.08,0.035],[2.27,0.095],[2.45,0.125],[2.61,0.045],[2.79,0.105],[2.93,0.065],[3.08,0.085],[3.27,0.035],[3.45,0.095],[3.61,0.125],
  [3.79,0.045],[3.93,0.075],[4.08,0.105],[4.27,0.065],[4.45,0.025],[4.61,0.085],[4.79,0.055],[4.93,0.115],[5.08,0.045],[5.27,0.085],
  [5.45,0.065],[5.61,0.035],[5.79,0.115],[5.93,0.095],[6.08,0.065],[6.27,0.025],[6.45,0.085],[6.61,0.115],[6.79,0.045],[6.93,0.075],
  [7.08,0.095],[7.27,0.055],[7.45,0.025],[7.61,0.085],[7.79,0.065],[7.93,0.035],[8.08,0.035],[8.27,0.095],[8.45,0.055],[8.61,0.075],
  [8.79,0.025],[8.93,0.085],[9.08,0.085],[9.27,0.025],[9.45,0.115],[9.61,0.045],[9.79,0.065],[9.93,0.095],[10.08,0.055],[10.27,0.095],
  [10.45,0.035],[10.61,0.075],[10.79,0.105],[10.93,0.045],[11.08,0.075],[11.27,0.025],[11.45,0.065],[11.61,0.105],[11.79,0.035],[11.93,0.085],
  [12.08,0.045],[12.27,0.085],[12.45,0.115],[12.61,0.025],[12.79,0.065],[12.93,0.055],[13.08,0.095],[13.27,0.045],[13.45,0.035],[13.61,0.075],
  [13.79,0.105],[13.93,0.025],[14.08,0.055],[14.27,0.075],[14.45,0.095],[14.61,0.035],[14.79,0.045],[14.93,0.085],[15.08,0.025],[15.27,0.085],
  [15.45,0.105],[15.61,0.055],[15.79,0.075],[15.93,0.045]
];

// Second pass over the recoil band core
const recoilBandCore = [
  [2.02,0.065],[2.15,0.105],[2.21,0.025],[2.35,0.135],[2.42,0.055],[2.53,0.085],[2.67,0.125],[2.74,0.015],[2.86,0.075],[2.97,0.135],
  [2.10,0.145],[2.19,0.045],[2.30,0.085],[2.48,0.015],[2.59,0.115],[2.70,0.055],[2.83,0.025],[2.95,0.045],
  [3.04,0.075],[3.12,0.135],[3.21,0.025],[3.31,0.115],[3.40,0.055],[3.51,0.035],[3.59,0.095],[3.70,0.065],[3.81,0.135],[3.91,0.105],
  [3.06,0.105],[3.18,0.055],[3.29,0.015],[3.37,0.135],[3.47,0.085],[3.56,0.015],[3.68,0.035],[3.75,0.105],[3.86,0.065],[3.97,0.025],
  [4.03,0.045],[4.11,0.075],[4.22,0.125],[4.31,0.095],[4.41,0.035],[4.52,0.135],[4.63,0.075],[4.72,0.035],[4.83,0.105],[4.94,0.065],
  [4.06,0.135],[4.17,0.015],[4.26,0.085],[4.36,0.055],[4.47,0.105],[4.57,0.025],[4.68,0.095],[4.77,0.125],[4.86,0.035],[4.97,0.085],
  [5.04,0.105],[5.14,0.065],[5.23,0.035],[5.32,0.095],[5.43,0.045],[5.53,0.125],[5.62,0.075],[5.72,0.025],[5.83,0.105],[5.94,0.035],
  [5.07,0.035],[5.18,0.125],[5.28,0.015],[5.37,0.115],[5.48,0.085],[5.58,0.045],[5.69,0.135],[5.78,0.065],[5.87,0.025],[5.98,0.075],
  [6.04,0.105],[6.14,0.035],[6.23,0.075],[6.34,0.125],[6.44,0.055],[6.53,0.025],[6.64,0.085],[6.73,0.125],[6.84,0.035],[6.95,0.065],
  [6.07,0.025],[6.19,0.085],[6.28,0.115],[6.39,0.035],[6.48,0.095],[6.59,0.105],[6.69,0.035],[6.78,0.075],[6.89,0.105],[6.98,0.015],
  [7.04,0.065],[7.14,0.115],[7.25,0.035],[7.34,0.085],[7.44,0.105],[7.54,0.055],[7.64,0.025],[7.73,0.095],[7.84,0.125],[7.95,0.055],
  [7.09,0.035],[7.19,0.085],[7.30,0.125],[7.41,0.065],[7.50,0.035],[7.59,0.115],[7.70,0.085],[7.80,0.035],[7.89,0.075],[7.98,0.095],
  [8.12,0.085],[8.33,0.035],[8.55,0.115],[8.72,0.055],[8.91,0.035],[9.14,0.075],[9.33,0.105],[9.53,0.035],[9.72,0.085],[9.91,0.025],
  [10.11,0.095],[10.33,0.035],[10.53,0.065],[10.73,0.095],[10.91,0.085],[11.12,0.035],[11.33,0.115],[11.53,0.055],[11.73,0.085],[11.91,0.045],
  [12.12,0.075],[12.33,0.105],[12.53,0.035],[12.73,0.055],[12.91,0.085],[13.12,0.045],[13.33,0.075],[13.53,0.095],[13.73,0.035],[13.91,0.065],
  [14.12,0.085],[14.33,0.045],[14.53,0.115],[14.73,0.075],[14.91,0.035],[15.12,0.055],[15.33,0.085],[15.53,0.035],[15.73,0.105],[15.91,0.065]
];

// Band boundaries [energy keV, light yield]
const gammaUpper = [
  [0.21,1.70],[0.25,1.63],[0.30,1.56],[0.36,1.49],[0.43,1.43],[0.50,1.385],[0.60,1.34],[0.70,1.305],[0.85,1.267],[1.00,1.240],
  [1.20,1.214],[1.45,1.194],[1.75,1.182],[2.10,1.177],[2.60,1.177],[3.10,1.181],[4.00,1.195],[5.00,1.211],[6.00,1.225],[7.00,1.237],
  [8.00,1.248],[9.00,1.258],[10.00,1.268],[11.00,1.278],[12.00,1.288],[13.00,1.298],[14.00,1.308],[15.00,1.318],[16.00,1.328]
];
const gammaLower = [
  [0.07,-1.00],[0.09,-0.92],[0.11,-0.84],[0.13,-0.75],[0.15,-0.66],[0.17,-0.57],[0.19,-0.48],[0.21,-0.40],[0.235,-0.30],[0.26,-0.21],
  [0.29,-0.13],[0.33,-0.05],[0.39,0.03],[0.46,0.095],[0.53,0.145],[0.61,0.19],[0.70,0.23],[0.80,0.265],[0.92,0.30],[1.10,0.343],
  [1.45,0.405],[2.00,0.478],[2.60,0.532],[3.13,0.570],[4.00,0.622],[5.00,0.666],[6.00,0.701],[7.00,0.728],[8.00,0.749],[9.00,0.766],
  [10.00,0.780],[11.00,0.792],[12.00,0.804],[13.00,0.815],[14.00,0.826],[15.00,0.837],[16.00,0.847]
];
const recoilUpperRed = [
  [0.12,1.70],[0.13,1.45],[0.15,1.20],[0.17,1.02],[0.19,0.89],[0.22,0.77],[0.26,0.665],[0.31,0.575],[0.37,0.50],[0.45,0.44],
  [0.55,0.39],[0.70,0.345],[0.89,0.307],[1.15,0.275],[1.45,0.252],[1.80,0.235],[2.30,0.218],[3.13,0.200],[4.00,0.189],[5.00,0.182],
  [6.00,0.177],[7.00,0.174],[8.00,0.172],[9.00,0.170],[10.00,0.168],[12.00,0.166],[14.00,0.164],[16.00,0.163]
];
const recoilLowerRed = [
  [0.11,-1.00],[0.14,-0.85],[0.17,-0.72],[0.21,-0.60],[0.26,-0.48],[0.31,-0.38],[0.37,-0.30],[0.44,-0.24],[0.52,-0.195],[0.65,-0.155],
  [0.80,-0.124],[1.00,-0.095],[1.25,-0.068],[1.55,-0.045],[2.00,-0.022],[2.57,-0.004],[3.13,0.009],[4.00,0.020],[5.00,0.029],[6.00,0.036],
  [7.00,0.042],[8.00,0.047],[9.00,0.052],[10.00,0.056],[12.00,0.062],[14.00,0.066],[16.00,0.070]
];
const recoilUpperGreen = [
  [0.08,1.70],[0.09,1.45],[0.10,1.22],[0.12,1.02],[0.15,0.88],[0.18,0.76],[0.21,0.64],[0.25,0.52],[0.30,0.43],[0.36,0.36],
  [0.43,0.30],[0.52,0.255],[0.63,0.215],[0.78,0.182],[0.95,0.157],[1.17,0.136],[1.45,0.117],[1.80,0.100],[2.30,0.085],[3.13,0.068],
  [4.00,0.060],[5.00,0.054],[6.00,0.050],[8.00,0.046],[10.00,0.043],[13.00,0.040],[16.00,0.038]
];
const recoilLowerGreen = [
  [0.12,-1.00],[0.15,-0.88],[0.18,-0.78],[0.21,-0.68],[0.25,-0.58],[0.29,-0.48],[0.33,-0.40],[0.39,-0.33],[0.46,-0.275],[0.55,-0.228],
  [0.67,-0.19],[0.80,-0.162],[1.00,-0.128],[1.25,-0.098],[1.55,-0.072],[2.00,-0.048],[2.57,-0.030],[3.13,-0.020],[4.00,-0.013],[5.00,-0.010],
  [6.00,-0.008],[8.00,-0.005],[10.00,-0.003],[13.00,-0.001],[16.00,0.000]
];

const axisGrey = '#7f7f7f';
const tickFont = 'DejaVu Sans';

function yLabel(v) {
  const r = Math.round(v * 2) / 2;
  if (Math.abs(v - r) > 1e-6) return '';
  if (r < 0) return '\u2212' + String(Math.abs(r));
  return String(r);
}

const chart = echarts.init(document.getElementById('chart'), null, { renderer: 'canvas' });

function dots(data, name) {
  return {
    type: 'scatter', name: name, data: data,
    symbol: 'rect', symbolSize: 4,
    itemStyle: { color: '#000000', opacity: 1 },
    silent: true, z: 2
  };
}
function band(data, color) {
  return {
    type: 'line', data: data, showSymbol: false, symbol: 'none',
    smooth: 0.5,
    lineStyle: { color: color, width: 3 },
    silent: true, z: 3, clip: true
  };
}

chart.setOption({
  animation: false,
  backgroundColor: '#ffffff',
  grid: {
    left: 113, top: 10, width: 955, height: 696,
    show: true, borderColor: axisGrey, borderWidth: 1,
    containLabel: false, outerBoundsMode: 'none'
  },
  xAxis: {
    type: 'value', min: xRange[0], max: xRange[1], interval: xMajorStep,
    axisLine: { show: true, onZero: false, lineStyle: { color: axisGrey, width: 1 } },
    axisTick: { show: true, inside: true, length: 21, lineStyle: { color: axisGrey, width: 1 } },
    minorTick: { show: true, splitNumber: 4, length: 11, lineStyle: { color: axisGrey, width: 1 } },
    splitLine: { show: false },
    axisLabel: {
      margin: 10, color: '#000', fontFamily: tickFont, fontWeight: 'bold', fontSize: 23,
      formatter: v => (v === 0 ? '' : String(v))
    },
    name: 'Energy (keV)', nameLocation: 'middle', nameGap: 49, nameMoveOverlap: false,
    nameTextStyle: { color: '#000', fontFamily: tickFont, fontWeight: 'bold', fontSize: 23, padding: [0, 24, 0, 0] }
  },
  yAxis: [
    {
      type: 'value', min: yRange[0], max: yRange[1], interval: yMajorStep, position: 'left',
      axisLine: { show: true, onZero: false, lineStyle: { color: axisGrey, width: 1 } },
      axisTick: { show: true, inside: true, length: 28, lineStyle: { color: axisGrey, width: 1 } },
      splitLine: { show: false },
      axisLabel: {
        margin: 12, color: '#000', fontFamily: tickFont, fontWeight: 'bold', fontSize: 23,
        formatter: yLabel
      },
      name: 'Light Yield', nameLocation: 'middle', nameGap: 71, nameMoveOverlap: false,
      nameTextStyle: { color: '#000', fontFamily: tickFont, fontWeight: 'bold', fontSize: 23 }
    },
    {
      type: 'value', min: yRange[0], max: yRange[1], interval: yMinorStep, position: 'left', offset: 0,
      axisLine: { show: false },
      axisTick: { show: true, inside: true, length: 14, lineStyle: { color: axisGrey, width: 1 } },
      axisLabel: { show: false },
      splitLine: { show: false }
    }
  ],
  series: [
    dots(sparseEvents, 'sparse'),
    dots(thresholdEvents, 'threshold'),
    dots(lowEnergyCloud, 'cloud'),
    dots(lowEnergyCore, 'cloud core'),
    dots(recoilBand, 'band'),
    dots(recoilBandCore, 'band core'),
    band(gammaUpper, '#0000ee'),
    band(gammaLower, '#0000ee'),
    band(recoilUpperRed, '#ee0000'),
    band(recoilLowerRed, '#ee0000'),
    band(recoilUpperGreen, '#00c000'),
    band(recoilLowerGreen, '#00c000')
  ],
  graphic: [
    // arrow pointing into the recoil band
    { type: 'line', z: 100, shape: { x1: -10, y1: 563, x2: 607, y2: 435 },
      style: { stroke: '#000', lineWidth: 8 } },
    { type: 'polygon', z: 100, shape: { points: [[639, 428], [602.5, 418], [609.5, 452]] },
      style: { fill: '#000' } },
    // label boxes
    { type: 'rect', z: 101, shape: { x: 598.5, y: 142.5, width: 347, height: 74 },
      style: { fill: '#fff', stroke: '#555', lineWidth: 1 } },
    { type: 'text', z: 102, x: 620, y: 182.5,
      style: { text: 'e', font: '43.5px "Liberation Sans"', fill: '#000', align: 'left', verticalAlign: 'middle' } },
    { type: 'text', z: 103, x: 642, y: 174,
      style: { text: '-', font: '27px "Liberation Sans"', fill: '#000', align: 'left', verticalAlign: 'middle' } },
    { type: 'text', z: 102, x: 648, y: 182.5,
      style: { text: '/\u03b3 background', font: '43.5px "Liberation Sans"', fill: '#000', align: 'left', verticalAlign: 'middle' } },
    { type: 'rect', z: 101, shape: { x: 598.5, y: 482.5, width: 347, height: 126 },
      style: { fill: '#fff', stroke: '#555', lineWidth: 1 } },
    { type: 'text', z: 102, x: 772, y: 550,
      style: { text: 'nuclear recoil\nbands', font: '42px "Liberation Sans"', lineHeight: 55, fill: '#000', align: 'center', verticalAlign: 'middle' } },
    // slide text cut by the frame edges
    { type: 'text', z: 102, x: -14, y: 0,
      style: { text: 'un', font: 'bold 34px "Open Sans"', fill: '#17606e', align: 'left', verticalAlign: 'middle' } },
    { type: 'text', z: 102, x: 46, y: 774,
      style: { text: 'l', font: 'bold 32px "Liberation Sans"', fill: '#c8785a', align: 'left', verticalAlign: 'top' } },
    { type: 'text', z: 102, x: 115, y: 774,
      style: { text: 'l', font: 'bold 32px "Liberation Sans"', fill: '#c8785a', align: 'left', verticalAlign: 'top' } },
    { type: 'text', z: 102, x: 198, y: 774,
      style: { text: 'l', font: 'bold 32px "Liberation Sans"', fill: '#c8785a', align: 'left', verticalAlign: 'top' } }
  ]
});
</script>
</body>
</html>
